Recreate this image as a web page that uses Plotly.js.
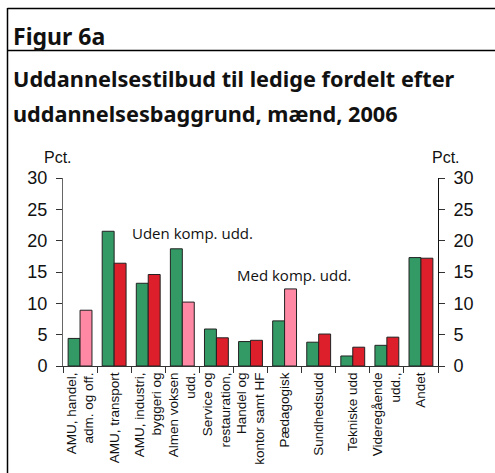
<!DOCTYPE html>
<html><head><meta charset="utf-8">
<script src="https://cdn.plot.ly/plotly-3.0.1.min.js"></script>
<style>body{margin:0;padding:0;background:#fff}#c{width:495px;height:473px}</style>
</head><body><div id="c"></div>
<script>
const categories = ["AMU, handel,<br>adm. og off.", "AMU, transport", "AMU, industri,<br>byggeri og", "Almen voksen<br>udd.", "Service og<br>restauration,", "Handel og<br>kontor samt HF", "Pædagogisk", "Sundhedsudd", "Tekniske udd", "Videregående<br>udd.,", "Andet"];
const udenKomp = [4.4, 21.5, 13.2, 18.7, 5.9, 3.9, 7.2, 3.8, 1.6, 3.3, 17.3];
const medKomp = [8.9, 16.4, 14.6, 10.2, 4.5, 4.1, 12.3, 5.1, 3.0, 4.6, 17.2];
const medColors = ["#ff88a4", "#dc1f2a", "#dc1f2a", "#ff88a4", "#dc1f2a", "#dc1f2a", "#ff88a4", "#dc1f2a", "#dc1f2a", "#dc1f2a", "#dc1f2a"];
const yTicks = [0, 5, 10, 15, 20, 25, 30];

const L = 63, R = 438, T = 178, B = 366;
const px = x => (x - L) / (R - L);
const py = y => (B - y) / (B - T);

const traces = [
  {type: "bar", x: categories, y: udenKomp, name: "Uden komp. udd.",
   marker: {color: "#339a66", line: {color: "#222", width: 1}}},
  {type: "bar", x: categories, y: medKomp, name: "Med komp. udd.",
   marker: {color: medColors, line: {color: "#222", width: 1}}},
  {type: "scatter", x: [categories[0]], y: [0], yaxis: "y2", mode: "none", showlegend: false, hoverinfo: "skip"}
];

const tickFont = {family: "Liberation Sans, Arial, sans-serif", size: 18, color: "#111"};
const layout = {
  width: 495, height: 473,
  margin: {l: L, r: 495 - R, t: T, b: 473 - B, pad: 0},
  paper_bgcolor: "#fff", plot_bgcolor: "#fff",
  showlegend: false, barmode: "group", bargap: 0.3, bargroupgap: 0,
  xaxis: {type: "category", showline: true, linecolor: "#333", linewidth: 1,
    ticks: "outside", tickson: "boundaries", ticklen: 6, tickcolor: "#333",
    tickangle: -90, tickfont: {family: "Liberation Sans, Arial, sans-serif", size: 13.5, color: "#111"},
    showgrid: false, zeroline: false, fixedrange: true},
  yaxis: {range: [0, 30], tickvals: yTicks, showline: true, linecolor: "#666", linewidth: 1,
    ticks: "outside", ticklen: 6, tickcolor: "#333", tickfont: tickFont, ticklabelstandoff: 5,
    showgrid: false, zeroline: false, fixedrange: true},
  yaxis2: {range: [0, 30], tickvals: yTicks, overlaying: "y", side: "right", showline: true, linecolor: "#111", linewidth: 1,
    ticks: "outside", ticklen: 6, tickcolor: "#333", tickfont: tickFont, ticklabelstandoff: 5,
    showgrid: false, zeroline: false, fixedrange: true},
  shapes: [
    {type: "line", xref: "paper", yref: "paper", x0: px(7.5), x1: px(500), y0: py(8.5), y1: py(8.5), line: {color: "#000", width: 1.5}},
    {type: "line", xref: "paper", yref: "paper", x0: px(7.5), x1: px(500), y0: py(50.5), y1: py(50.5), line: {color: "#000", width: 1.5}},
    {type: "line", xref: "paper", yref: "paper", x0: px(7.5), x1: px(7.5), y0: py(8), y1: py(480), line: {color: "#000", width: 1.5}}
  ],
  annotations: [
    {xref: "paper", yref: "paper", x: px(11), y: py(36), xanchor: "left", yanchor: "middle", showarrow: false,
     text: "<b>Figur 6a</b>", font: {family: "Noto Sans, sans-serif", size: 23, color: "#111"}},
    {xref: "paper", yref: "paper", x: px(11), y: py(78), xanchor: "left", yanchor: "middle", showarrow: false,
     text: "<b>Uddannelsestilbud til ledige fordelt efter</b>", font: {family: "Noto Sans, sans-serif", size: 21.7, color: "#111"}},
    {xref: "paper", yref: "paper", x: px(11), y: py(113), xanchor: "left", yanchor: "middle", showarrow: false,
     text: "<b>uddannelsesbaggrund, mænd, 2006</b>", font: {family: "Noto Sans, sans-serif", size: 21.7, color: "#111"}},
    {xref: "paper", yref: "paper", x: px(58), y: py(157), xanchor: "center", yanchor: "middle", showarrow: false,
     text: "Pct.", font: {family: "Liberation Sans, Arial, sans-serif", size: 16, color: "#111"}},
    {xref: "paper", yref: "paper", x: px(446), y: py(157), xanchor: "center", yanchor: "middle", showarrow: false,
     text: "Pct.", font: {family: "Liberation Sans, Arial, sans-serif", size: 16, color: "#111"}},
    {xref: "paper", yref: "paper", x: px(130), y: py(233), xanchor: "left", yanchor: "middle", showarrow: false,
     text: "Uden komp. udd.", font: {family: "Open Sans, sans-serif", size: 15, color: "#111"}},
    {xref: "paper", yref: "paper", x: px(235), y: py(275), xanchor: "left", yanchor: "middle", showarrow: false,
     text: "Med komp. udd.", font: {family: "Open Sans, sans-serif", size: 15, color: "#111"}}
  ]
};
Plotly.newPlot("c", traces, layout, {displayModeBar: false, staticPlot: true});
</script></body></html>
